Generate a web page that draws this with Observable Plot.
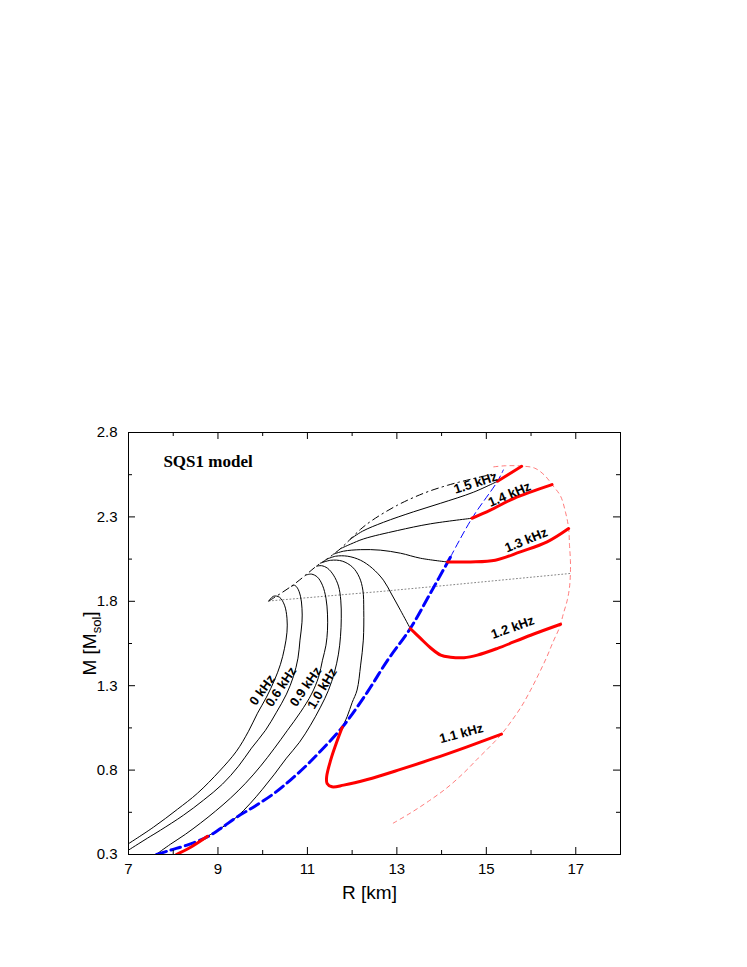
<!DOCTYPE html>
<html><head><meta charset="utf-8">
<script src="https://cdn.jsdelivr.net/npm/d3@7"></script>
<script src="https://cdn.jsdelivr.net/npm/@observablehq/plot@0.6"></script>
<style>body{margin:0;background:#fff}#chart{position:absolute;left:0;top:0}</style>
</head><body><div id="chart"></div>
<script>
// ---------- data (R in km, M in solar masses) ----------
const xDomain = [7, 18];
const yDomain = [0.3, 2.8];
const xTickLabels = [7, 9, 11, 13, 15, 17];
const xTickMinor = [8, 10, 12, 14, 16];
const yTickLabels = [0.3, 0.8, 1.3, 1.8, 2.3, 2.8];
const yTickMinor = [0.55, 1.05, 1.55, 2.05, 2.55];

const f0 = [[7.000,0.364],[7.559,0.462],[8.095,0.568],[8.543,0.663],[9.034,0.794],[9.414,0.912],[9.683,1.030],[9.884,1.137],[10.085,1.232],[10.264,1.333],[10.398,1.427],[10.488,1.522],[10.543,1.617],[10.543,1.700],[10.488,1.777],[10.376,1.824],[10.242,1.830],[10.137,1.802]];
const f06 = [[7.000,0.326],[7.425,0.397],[7.715,0.444],[8.230,0.533],[8.677,0.622],[9.101,0.717],[9.459,0.823],[9.750,0.930],[10.063,1.036],[10.309,1.143],[10.532,1.250],[10.689,1.356],[10.789,1.463],[10.834,1.570],[10.879,1.676],[10.879,1.759],[10.845,1.830],[10.778,1.878],[10.711,1.895],[10.644,1.889]];
const f09 = [[7.626,0.302],[7.939,0.361],[8.274,0.420],[8.610,0.486],[8.945,0.557],[9.280,0.634],[9.616,0.722],[9.951,0.823],[10.264,0.930],[10.555,1.036],[10.845,1.143],[11.091,1.250],[11.248,1.350],[11.337,1.451],[11.415,1.540],[11.449,1.629],[11.449,1.724],[11.415,1.818],[11.337,1.895],[11.225,1.943],[11.091,1.961],[10.957,1.955]];
const f10Black = [[8.766,0.408],[9.057,0.454],[9.414,0.521],[9.727,0.604],[9.996,0.687],[10.264,0.776],[10.532,0.871],[10.823,0.965],[11.069,1.066],[11.292,1.173],[11.471,1.273],[11.605,1.380],[11.694,1.487],[11.740,1.593],[11.757,1.700],[11.746,1.807],[11.695,1.890],[11.583,1.955],[11.449,1.996],[11.315,2.011],[11.203,2.008]];
const f10Red = [[8.07,0.300],[8.39,0.343],[8.766,0.408]];
const f11Black = [[11.29,2.026],[11.52,2.043],[11.78,2.038],[12.01,2.002],[12.16,1.943],[12.24,1.866],[12.26,1.747],[12.25,1.570],[12.19,1.422],[12.11,1.274],[12.00,1.200],[11.89,1.118],[11.78,1.054]];
const f11Red = [[11.78,1.054],[11.67,0.977],[11.52,0.859],[11.43,0.760],[11.44,0.721],[11.55,0.701],[11.81,0.711],[12.34,0.744],[13.08,0.804],[13.83,0.869],[14.57,0.938],[15.34,1.013]];
const f12Black = [[11.43,2.049],[11.63,2.067],[11.90,2.067],[12.19,2.043],[12.45,1.996],[12.70,1.925],[12.88,1.843],[13.08,1.747],[13.30,1.639]];
const f12Red = [[13.30,1.639],[13.53,1.580],[13.75,1.525],[13.98,1.481],[14.20,1.469],[14.50,1.466],[14.80,1.481],[15.24,1.520],[15.99,1.599],[16.66,1.664]];
const f13Black = [[11.58,2.079],[11.81,2.097],[12.19,2.106],[12.63,2.103],[13.08,2.085],[13.53,2.055],[14.13,2.033]];
const f13Red = [[14.13,2.033],[14.65,2.033],[15.20,2.043],[15.76,2.093],[16.36,2.152],[16.84,2.231]];
const f14Black = [[11.74,2.112],[11.96,2.138],[12.26,2.170],[13.01,2.219],[13.75,2.259],[14.68,2.292]];
const f14Red = [[14.68,2.292],[15.09,2.340],[15.61,2.409],[16.47,2.491]];
const f15Black = [[11.96,2.168],[12.23,2.215],[12.70,2.268],[13.37,2.330],[13.98,2.381],[14.71,2.446],[15.25,2.511]];
const f15Red = [[15.25,2.511],[15.79,2.600]];

const envelope = [[10.14,1.802],[10.64,1.889],[10.96,1.955],[11.20,2.008],[11.43,2.049],[11.74,2.112],[11.96,2.168],[12.19,2.227],[12.45,2.280],[13.01,2.369],[13.60,2.440],[14.13,2.487],[14.65,2.523],[15.14,2.553]];
const kepler = [[12.92,0.486],[13.30,0.545],[13.71,0.616],[14.11,0.693],[14.49,0.782],[14.82,0.871],[15.09,0.942],[15.34,1.013],[15.56,1.090],[15.79,1.179],[15.99,1.274],[16.17,1.368],[16.35,1.469],[16.50,1.564],[16.64,1.647],[16.72,1.724],[16.81,1.807],[16.86,1.884],[16.88,1.967],[16.88,2.043],[16.86,2.132],[16.84,2.233],[16.77,2.328],[16.66,2.423],[16.48,2.488],[16.30,2.547],[16.08,2.589],[15.79,2.601],[15.43,2.603],[15.09,2.594]];
const blueThick = [[7.63,0.300],[7.94,0.326],[8.31,0.356],[8.76,0.404],[9.06,0.454],[9.43,0.523],[9.80,0.582],[10.25,0.661],[10.62,0.741],[10.96,0.823],[11.29,0.912],[11.78,1.054],[12.34,1.262],[12.78,1.446],[13.30,1.639],[13.75,1.848],[14.20,2.063]];
const blueThin = [[14.20,2.063],[14.68,2.292],[15.25,2.511],[15.38,2.578]];
const dottedLine = [[10.14,1.802],[12.63,1.858],[14.13,1.895],[16.88,1.965]];

const labelText = ["0 kHz","0.6 kHz","0.9 kHz","1.0 kHz","1.1 kHz","1.2 kHz","1.3 kHz","1.4 kHz","1.5 kHz"];
const labelR = [9.99,10.41,10.96,11.33,14.44,15.59,15.89,15.52,14.76];
const labelM = [1.274,1.293,1.294,1.283,1.017,1.645,2.162,2.433,2.501];
const titleText = ["SQS1 model"];
const titleR = [7.78];
const titleM = [2.627];

// ---------- styles ----------
const labelAngles = [-54,-56,-55,-59,-15,-20,-22,-23,-18];
const W = 747, H = 967, mL = 128, mR = 127, mT = 432, mB = 113;
const pw = W - mL - mR, ph = H - mT - mB;
const sans = "'Liberation Sans', Arial, Helvetica, sans-serif";

const rows = (arr, s) => arr.map(([R, M]) => ({R, M, s}));
const blackRows = [f0, f06, f09, f10Black, f11Black, f12Black, f13Black, f14Black, f15Black].flatMap((a, i) => rows(a, "b" + i));
const redRows = [f10Red, f11Red, f12Red, f13Red, f14Red, f15Red].flatMap((a, i) => rows(a, "r" + i));
const labels = labelText.map((t, i) => ({t, R: labelR[i], M: labelM[i], a: labelAngles[i]}));

const chart = Plot.plot({
  width: W, height: H,
  marginLeft: mL, marginRight: mR, marginTop: mT, marginBottom: mB,
  x: {domain: xDomain},
  y: {domain: yDomain},
  style: {fontFamily: sans, background: "white", color: "#000"},
  marks: [
    Plot.line(dottedLine.map(([R, M]) => ({R, M})), {x: "R", y: "M", stroke: "#666", strokeWidth: 0.8, strokeDasharray: "1,2.5"}),
    Plot.line(rows(kepler, "k"), {x: "R", y: "M", stroke: "#ff5a5a", strokeWidth: 0.8, strokeDasharray: "4,4", curve: "catmull-rom"}),
    Plot.line(rows(envelope, "e"), {x: "R", y: "M", stroke: "#000", strokeWidth: 1, strokeDasharray: "7,4,1.5,4", curve: "catmull-rom"}),
    Plot.line(blackRows, {x: "R", y: "M", z: "s", stroke: "#000", strokeWidth: 1, curve: "catmull-rom", clip: true}),
    Plot.line(rows(blueThin, "bt"), {x: "R", y: "M", stroke: "#0000ff", strokeWidth: 1, strokeDasharray: "7,4", curve: "catmull-rom"}),
    Plot.line(rows(blueThick, "bT"), {x: "R", y: "M", stroke: "#0000ff", strokeWidth: 3, strokeDasharray: "10,5", curve: "catmull-rom", clip: true}),
    Plot.line(redRows, {x: "R", y: "M", z: "s", stroke: "#ff0000", strokeWidth: 3, strokeLinejoin: "round", curve: "catmull-rom", clip: true}),
    Plot.text(labels, {x: "R", y: "M", text: "t", rotate: "a", fontSize: 13, fontWeight: "bold", fontFamily: sans, fill: "#000"}),
    Plot.text(titleText.map((t, i) => ({t, R: titleR[i], M: titleM[i]})), {x: "R", y: "M", text: "t", textAnchor: "start", fontFamily: "'Liberation Serif', 'Times New Roman', serif", fontWeight: "bold", fontSize: 17}),
    // inward ticks on all four sides
    Plot.tickX(xTickLabels, {x: d => d, insetTop: ph - 7, stroke: "#000"}),
    Plot.tickX(xTickLabels, {x: d => d, insetBottom: ph - 7, stroke: "#000"}),
    Plot.tickX(xTickMinor, {x: d => d, insetTop: ph - 4, stroke: "#000"}),
    Plot.tickX(xTickMinor, {x: d => d, insetBottom: ph - 4, stroke: "#000"}),
    Plot.tickY(yTickLabels, {y: d => d, insetRight: pw - 7, stroke: "#000"}),
    Plot.tickY(yTickLabels, {y: d => d, insetLeft: pw - 7, stroke: "#000"}),
    Plot.tickY(yTickMinor, {y: d => d, insetRight: pw - 4, stroke: "#000"}),
    Plot.tickY(yTickMinor, {y: d => d, insetLeft: pw - 4, stroke: "#000"}),
    Plot.axisX({ticks: xTickLabels, tickSize: 0, tickPadding: 9, fontSize: 15, tickFormat: d => String(d), label: null}),
    Plot.axisY({ticks: yTickLabels, tickSize: 0, tickPadding: 11, fontSize: 15, tickFormat: d => d.toFixed(1), label: null}),
    Plot.frame({stroke: "#000", strokeWidth: 1}),
    Plot.text(["R [km]"], {frameAnchor: "bottom", dy: 38, dx: -5, fontSize: 19, textAnchor: "middle", lineAnchor: "middle"}),
    Plot.text(["M [Msol]"], {frameAnchor: "left", dx: -39, rotate: -90, fontSize: 19, textAnchor: "middle", lineAnchor: "middle"})
  ]
});
document.getElementById("chart").append(chart);

// subscript for the y-axis title
d3.select(chart).selectAll("text").filter(function() { return this.textContent === "M [Msol]"; }).each(function() {
  const t = d3.select(this);
  t.text("");
  t.append("tspan").text("M [M");
  t.append("tspan").attr("dy", 5).attr("font-size", 13).text("sol");
  t.append("tspan").attr("dy", -5).text("]");
});
</script>
</body></html>
